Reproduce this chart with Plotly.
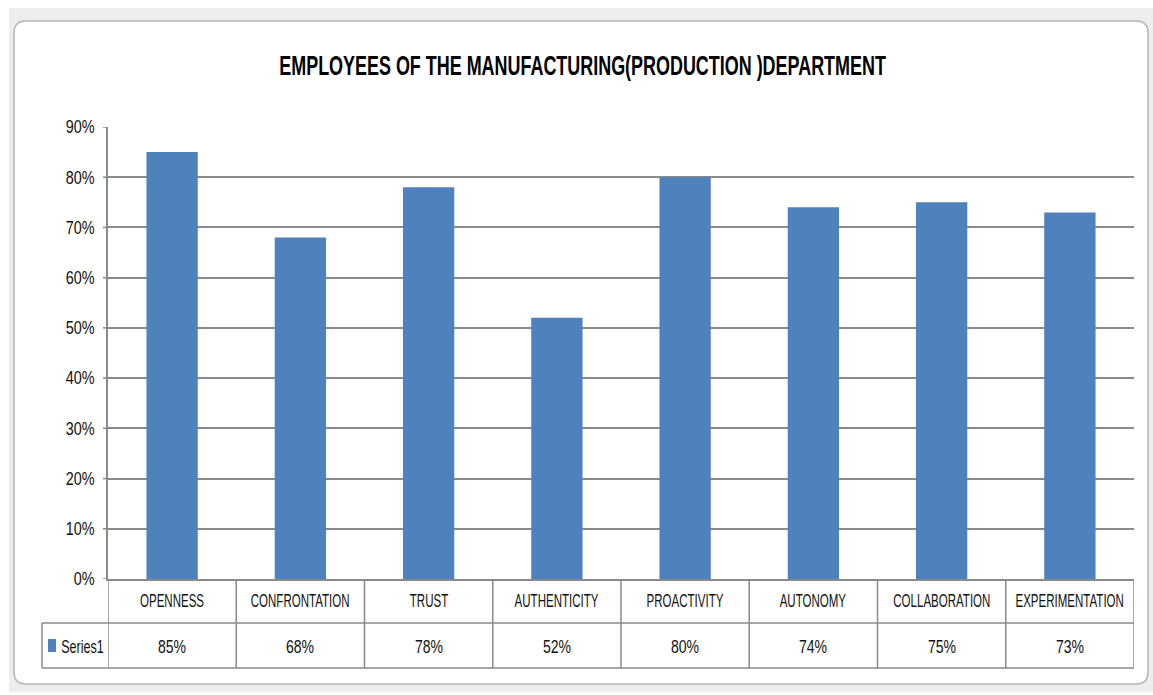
import json
import plotly.graph_objects as go

categories = ["OPENNESS", "CONFRONTATION", "TRUST", "AUTHENTICITY",
              "PROACTIVITY", "AUTONOMY", "COLLABORATION", "EXPERIMENTATION"]
values = [0.85, 0.68, 0.78, 0.52, 0.80, 0.74, 0.75, 0.73]
series_name = "Series1"
y_ticks = [0, 0.1, 0.2, 0.3, 0.4, 0.5, 0.6, 0.7, 0.8, 0.9]

W, H = 1153, 695
L, R, T, B = 108, 1134, 127, 579   # plot area in pixels
BAR_BLUE = "#4f81bd"
GRID = "#8a8a8a"
TXT = "#111111"
FONT = "Liberation Sans, Arial, sans-serif"


def px(x):
    return (x - L) / (R - L)


def py(y):
    return (B - y) / (B - T)


fig = go.Figure(go.Bar(
    x=list(range(len(categories))), y=values, name=series_name,
    marker=dict(color=BAR_BLUE, line=dict(width=0)),
    width=0.4, showlegend=False, hoverinfo="skip",
))

shapes = []
# spreadsheet backdrop and the rounded chart frame
shapes.append(dict(type="rect", xref="paper", yref="paper",
                   x0=px(9), x1=px(1153), y0=py(8), y1=py(692),
                   fillcolor="#ededed", line=dict(width=0), layer="below"))
r = 12
x0, x1, y0, y1 = 14, 1148, 21, 684
path = (f"M {px(x0 + r)},{py(y0)} L {px(x1 - r)},{py(y0)} "
        f"Q {px(x1)},{py(y0)} {px(x1)},{py(y0 + r)} L {px(x1)},{py(y1 - r)} "
        f"Q {px(x1)},{py(y1)} {px(x1 - r)},{py(y1)} L {px(x0 + r)},{py(y1)} "
        f"Q {px(x0)},{py(y1)} {px(x0)},{py(y1 - r)} L {px(x0)},{py(y0 + r)} "
        f"Q {px(x0)},{py(y0)} {px(x0 + r)},{py(y0)} Z")
shapes.append(dict(type="path", xref="paper", yref="paper", path=path,
                   fillcolor="white", line=dict(color="#b5b5b5", width=1.5),
                   layer="below"))

# data table below the plot
row1, row2 = 623, 668
line_style = dict(color=GRID, width=1.5)
for yy in (row1, row2):
    shapes.append(dict(type="line", xref="paper", yref="paper",
                       x0=px(42), x1=px(R), y0=py(yy), y1=py(yy), line=line_style))
shapes.append(dict(type="line", xref="paper", yref="paper",
                   x0=px(42), x1=px(42), y0=py(row1), y1=py(row2), line=line_style))
for i in range(len(categories) + 1):
    shapes.append(dict(type="line", xref="x", yref="paper",
                       x0=i - 0.5, x1=i - 0.5, y0=py(B), y1=py(row2), line=line_style))
# y-axis tick marks
for t in y_ticks:
    shapes.append(dict(type="line", xref="paper", yref="y",
                       x0=px(103), x1=0, y0=t, y1=t, line=line_style))
# legend key
shapes.append(dict(type="rect", xref="paper", yref="paper",
                   x0=px(48), x1=px(56), y0=py(639), y1=py(652),
                   fillcolor=BAR_BLUE, line=dict(width=0)))

# annotations, each with a horizontal squeeze factor for the narrow lettering
annotations = []
squeeze = []
for i, (c, v) in enumerate(zip(categories, values)):
    annotations.append(dict(x=i, y=py(601), xref="x", yref="paper",
                            text=c, showarrow=False, yanchor="middle",
                            font=dict(family=FONT, size=18, color=TXT)))
    squeeze.append(0.64)
    annotations.append(dict(x=i, y=py(647), xref="x", yref="paper",
                            text=f"{round(v * 100)}%", showarrow=False, yanchor="middle",
                            font=dict(family=FONT, size=18, color=TXT)))
    squeeze.append(0.78)
annotations.append(dict(x=px(82.5), y=py(647), xref="paper", yref="paper",
                        text=series_name, showarrow=False, xanchor="center", yanchor="middle",
                        font=dict(family=FONT, size=18, color=TXT)))
squeeze.append(0.70)
annotations.append(dict(x=px(582), y=py(66), xref="paper", yref="paper",
                        text="<b>EMPLOYEES OF THE MANUFACTURING(PRODUCTION )DEPARTMENT</b>",
                        showarrow=False, yanchor="middle",
                        font=dict(family=FONT, size=27, color="#000000")))
squeeze.append(0.665)

fig.update_layout(
    width=W, height=H,
    margin=dict(l=L, r=W - R, t=T, b=H - B, pad=0),
    paper_bgcolor="white", plot_bgcolor="white",
    shapes=shapes, annotations=annotations,
    xaxis=dict(range=[-0.5, len(categories) - 0.5], showticklabels=False,
               showgrid=False, zeroline=False, showline=True,
               linecolor=GRID, linewidth=1.5, fixedrange=True),
    yaxis=dict(range=[0, 0.9], tickvals=y_ticks, tickformat=".0%",
               showgrid=True, gridcolor=GRID, gridwidth=1.5,
               zeroline=False, showline=True, linecolor=GRID, linewidth=1.5,
               ticks="", ticklabelstandoff=8,
               tickfont=dict(family=FONT, size=18, color=TXT),
               fixedrange=True),
)

# condense text horizontally around its anchor point
post_js = """
var gd = document.getElementById('{plot_id}');
var annScale = %s;
var tickScale = 0.80;
function condense(el, k) {
  var base = el.getAttribute('data-base-tf');
  if (base === null) { base = el.getAttribute('transform') || ''; el.setAttribute('data-base-tf', base); }
  el.setAttribute('transform', base);
  var bb = el.getBBox();
  var anchor = el.getAttribute('text-anchor') || 'start';
  var cx = anchor === 'middle' ? bb.x + bb.width / 2 : (anchor === 'end' ? bb.x + bb.width : bb.x);
  el.setAttribute('transform', base + ' translate(' + cx + ',0) scale(' + k + ',1) translate(' + (-cx) + ',0)');
}
function condenseAll() {
  gd.querySelectorAll('g.annotation').forEach(function (g) {
    var i = parseInt(g.getAttribute('data-index'));
    var t = g.querySelector('text.annotation-text');
    if (t && annScale[i] !== undefined) condense(t, annScale[i]);
  });
  gd.querySelectorAll('g.ytick text').forEach(function (t) { condense(t, tickScale); });
}
condenseAll();
gd.on('plotly_afterplot', condenseAll);
""" % json.dumps(squeeze)

fig.write_html("out.html", post_script=post_js)
